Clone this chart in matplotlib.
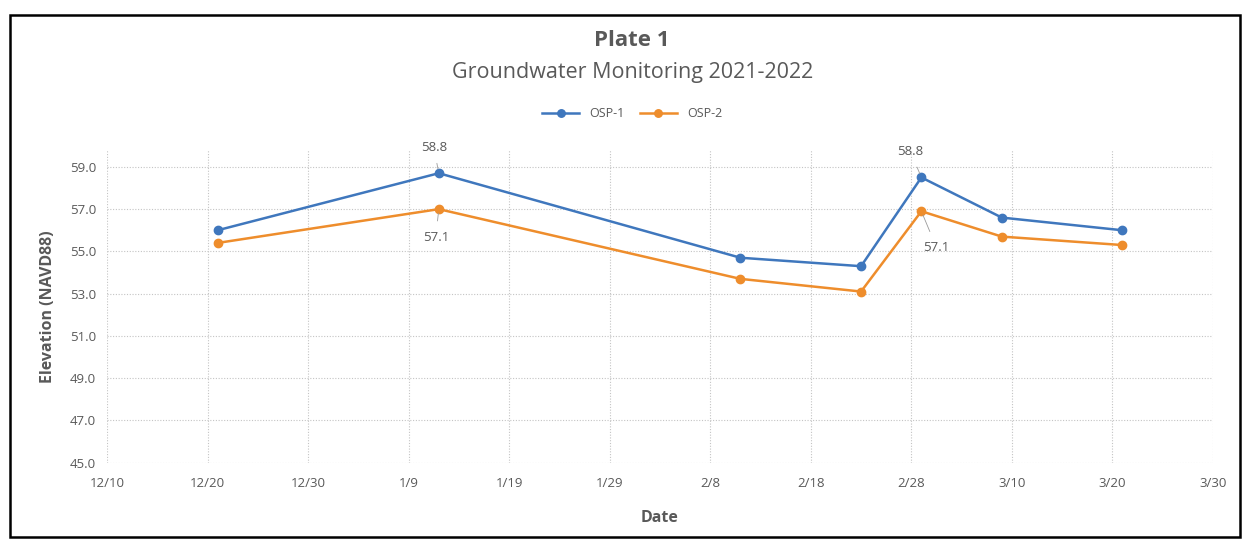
import datetime as dt

import matplotlib

matplotlib.use("Agg")
import matplotlib.dates as mdates
import matplotlib.pyplot as plt
from matplotlib.patches import Rectangle

plt.rcParams["font.family"] = ["Open Sans", "DejaVu Sans"]

# Sampling dates (2021-2022) and elevations
DATES = ["2021-12-21", "2022-01-12", "2022-02-11", "2022-02-23",
         "2022-03-01", "2022-03-09", "2022-03-21"]
OSP1 = [56.0, 58.7, 54.7, 54.3, 58.5, 56.6, 56.0]
OSP2 = [55.4, 57.0, 53.7, 53.1, 56.9, 55.7, 55.3]

# Data labels shown on the plate (index into the series, text)
OSP1_LABELS = [(1, "58.8"), (4, "58.8")]
OSP2_LABELS = [(1, "57.1"), (4, "57.1")]

X_TICKS = ["2021-12-10", "2021-12-20", "2021-12-30", "2022-01-09",
           "2022-01-19", "2022-01-29", "2022-02-08", "2022-02-18",
           "2022-02-28", "2022-03-10", "2022-03-20", "2022-03-30"]
Y_TICKS = [45.0, 47.0, 49.0, 51.0, 53.0, 55.0, 57.0, 59.0]

BLUE = "#3f77bd"
ORANGE = "#ee8d2c"
GREY = "#595959"

# label placement (pixels from the point), same order as the label lists
OSP1_OFFS = [(-5, 26), (-11, 26)]
OSP2_OFFS = [(-3, -28), (15, -36)]


def to_dates(items):
    return [dt.datetime.strptime(s, "%Y-%m-%d") for s in items]


def label_points(ax, x, ys, labels, offs):
    for (i, txt), off in zip(labels, offs):
        ax.annotate(txt, (x[i], ys[i]), xytext=off,
                    textcoords="offset pixels", ha="center", va="center",
                    fontsize=9.5, color=GREY,
                    arrowprops=dict(arrowstyle="-", color="#9a9a9a", lw=0.6,
                                    shrinkA=5, shrinkB=3))


def main():
    x = to_dates(DATES)
    ticks = to_dates(X_TICKS)

    fig = plt.figure(figsize=(12.47, 5.42), dpi=100)
    ax = fig.add_axes([0.0858, 0.1463, 0.8869, 0.577])

    ax.plot(x, OSP1, "-o", color=BLUE, lw=1.8, ms=6, label="OSP-1", zorder=3)
    ax.plot(x, OSP2, "-o", color=ORANGE, lw=1.8, ms=6, label="OSP-2", zorder=3)

    label_points(ax, x, OSP1, OSP1_LABELS, OSP1_OFFS)
    label_points(ax, x, OSP2, OSP2_LABELS, OSP2_OFFS)

    ax.set_xlim(ticks[0], ticks[-1])
    ax.set_ylim(45, 59.8)
    ax.set_xticks(ticks)
    ax.xaxis.set_major_formatter(
        matplotlib.ticker.FuncFormatter(
            lambda v, _: f"{mdates.num2date(v).month}/{mdates.num2date(v).day}"))
    ax.set_yticks(Y_TICKS)
    ax.set_yticklabels([f"{v:.1f}" for v in Y_TICKS])
    ax.tick_params(length=0, labelsize=9.5, labelcolor=GREY)
    ax.tick_params(axis="x", pad=10)
    ax.tick_params(axis="y", pad=8)

    for s in ax.spines.values():
        s.set_visible(False)
    ax.grid(True, color="#c4c4c4", lw=0.8, ls=(0, (1, 1.5)))
    ax.set_axisbelow(True)

    ax.set_xlabel("Date", fontsize=11.5, fontweight="bold", color=GREY,
                  labelpad=15)
    ax.set_ylabel("Elevation (NAVD88)", fontsize=11.5, fontweight="bold",
                  color=GREY, labelpad=10)

    fig.text(0.507, 0.925, "Plate 1", ha="center", va="center",
             fontsize=16, fontweight="bold", color=GREY)
    fig.text(0.507, 0.866, "Groundwater Monitoring 2021-2022", ha="center",
             va="center", fontsize=15.5, color=GREY)

    fig.legend(loc="center", bbox_to_anchor=(0.507, 0.79), ncol=2,
               frameon=False, fontsize=9, labelcolor=GREY, handlelength=3,
               columnspacing=1.2, markerscale=0.9)

    fig.patches.append(Rectangle((0.008, 0.01), 0.986, 0.962,
                                 transform=fig.transFigure, fill=False,
                                 edgecolor="black", lw=1.8))

    fig.savefig("out.png", dpi=100)


if __name__ == "__main__":
    main()
